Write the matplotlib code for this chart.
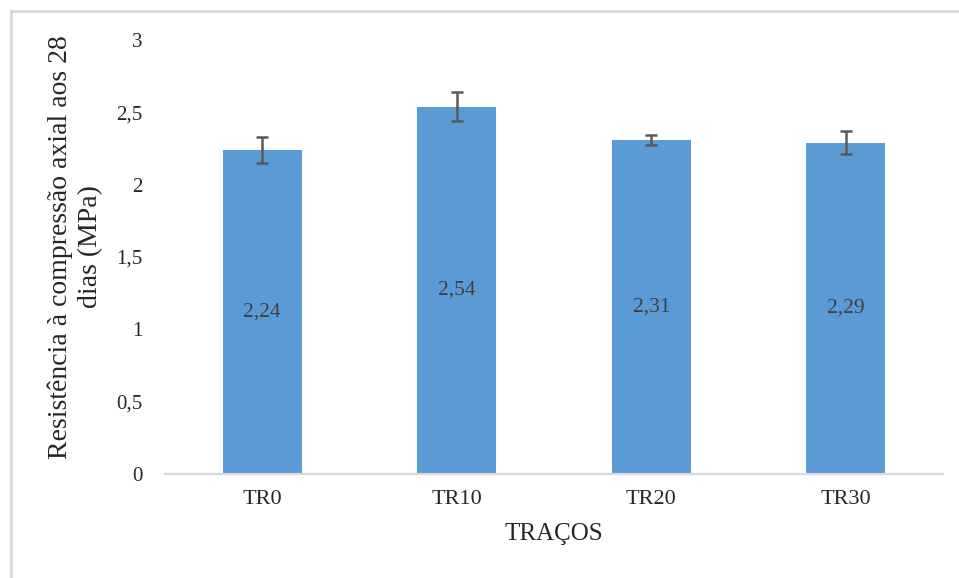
import matplotlib
matplotlib.use("Agg")
import matplotlib.pyplot as plt
from matplotlib.lines import Line2D

categories = ["TR0", "TR10", "TR20", "TR30"]
values = [2.24, 2.54, 2.31, 2.29]
errors = [0.09, 0.10, 0.035, 0.08]
yticks = [0, 0.5, 1, 1.5, 2, 2.5, 3]
ytick_labels = ["0", "0,5", "1", "1,5", "2", "2,5", "3"]
value_labels = ["2,24", "2,54", "2,31", "2,29"]

plt.rcParams['font.family'] = ['Liberation Serif', 'DejaVu Serif']

fig = plt.figure(figsize=(9.59, 5.78), dpi=100)
ax = fig.add_axes([165/959, 1 - 473.7/578, (943-165)/959, (473.7-40)/578])

x = list(range(len(categories)))
ax.bar(x, values, width=0.405, color="#5B9BD5", zorder=2)
ax.errorbar(x, values, yerr=errors, fmt="none", ecolor="#595959",
            elinewidth=1.8, capsize=4.3, capthick=1.8, zorder=3)
for xi, v, lab in zip(x, values, value_labels):
    ax.text(xi, v / 2, lab, ha="center", va="center", fontsize=15.5, color="#404040", zorder=4)

ax.set_xlim(-0.5, len(categories) - 0.5)
ax.set_ylim(0, 3)
ax.set_yticks(yticks)
ax.set_yticklabels(ytick_labels)
ax.set_xticks(x)
ax.set_xticklabels(categories)
ax.tick_params(axis="y", length=0, pad=16, labelsize=15, labelcolor="#262626")
ax.tick_params(axis="x", length=0, pad=12, labelsize=16, labelcolor="#262626")
for s in ["top", "right", "left"]:
    ax.spines[s].set_visible(False)
ax.spines["bottom"].set_color("#D9D9D9")
ax.spines["bottom"].set_linewidth(1.6)

ax.set_xlabel("TRAÇOS", fontsize=18, color="#262626", labelpad=10)
ax.set_ylabel("Resistência à compressão axial aos 28\ndias (MPa)", fontsize=20,
              color="#262626", linespacing=1.25)
ax.yaxis.set_label_coords(-0.08, 0.523)

# outer chart border (only top and left visible)
fig.add_artist(Line2D([11/959, 1], [1 - 11/578, 1 - 11/578], transform=fig.transFigure,
                      color="#D9D9D9", lw=2))
fig.add_artist(Line2D([11/959, 11/959], [0, 1 - 11/578], transform=fig.transFigure,
                      color="#D9D9D9", lw=2))

fig.savefig("out.png", dpi=100)
